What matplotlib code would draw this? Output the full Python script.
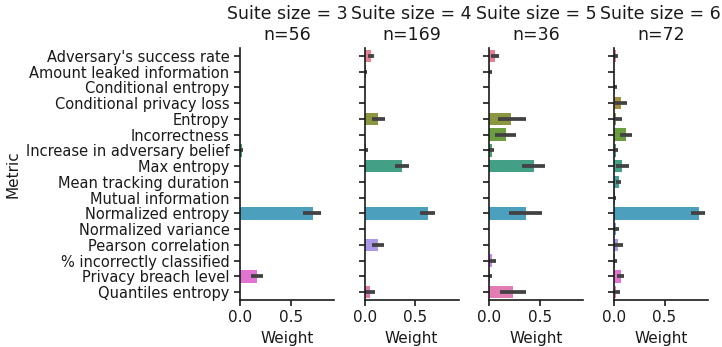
import numpy as np
import matplotlib
matplotlib.use("Agg")
import matplotlib.pyplot as plt
import seaborn as sns

metrics = ["Adversary's success rate", "Amount leaked information", "Conditional entropy",
           "Conditional privacy loss", "Entropy", "Incorrectness", "Increase in adversary belief",
           "Max entropy", "Mean tracking duration", "Mutual information", "Normalized entropy",
           "Normalized variance", "Pearson correlation", "% incorrectly classified",
           "Privacy breach level", "Quantiles entropy"]

suite_sizes = [3, 4, 5, 6]
suite_n = [56, 169, 36, 72]

# mean weight per metric, and CI low / high
mean_3 = [0, 0, 0, 0, 0, 0, 0.02, 0, 0, 0, 0.717, 0, 0, 0, 0.165, 0]
lo_3 = [0, 0, 0, 0, 0, 0, 0.0, 0, 0, 0, 0.62, 0, 0, 0, 0.11, 0]
hi_3 = [0, 0, 0, 0, 0, 0, 0.033, 0, 0, 0, 0.80, 0, 0, 0, 0.23, 0]

mean_4 = [0.06, 0.01, 0, 0, 0.128, 0, 0.01, 0.368, 0, 0, 0.622, 0, 0.128, 0, 0, 0.053]
lo_4 = [0.03, 0.0, 0, 0, 0.072, 0, 0.0, 0.30, 0, 0, 0.546, 0, 0.072, 0, 0, 0.0]
hi_4 = [0.09, 0.02, 0, 0, 0.197, 0, 0.036, 0.434, 0, 0, 0.697, 0, 0.1875, 0, 0, 0.105]

mean_5 = [0.056, 0.01, 0, 0, 0.214, 0.161, 0.023, 0.441, 0, 0, 0.362, 0, 0, 0.023, 0.005, 0.23]
lo_5 = [0.016, 0.0, 0, 0, 0.082, 0.059, 0.0, 0.319, 0, 0, 0.197, 0, 0, 0.0, 0.0, 0.105]
hi_5 = [0.099, 0.023, 0, 0, 0.359, 0.266, 0.046, 0.549, 0, 0, 0.523, 0, 0, 0.0625, 0.023, 0.365]

mean_6 = [0.02, 0.002, 0.01, 0.072, 0.02, 0.118, 0.02, 0.082, 0.053, 0.013, 0.842, 0.02, 0.043, 0.013, 0.072, 0.02]
lo_6 = [0.0, 0.0, 0.0, 0.007, 0.0, 0.066, 0.0, 0.023, 0.023, 0.0, 0.763, 0.0, 0.0, 0.0, 0.033, 0.0]
hi_6 = [0.04, 0.005, 0.03, 0.13, 0.076, 0.181, 0.04, 0.145, 0.072, 0.026, 0.901, 0.05, 0.086, 0.036, 0.099, 0.059]

means = [mean_3, mean_4, mean_5, mean_6]
los = [lo_3, lo_4, lo_5, lo_6]
his = [hi_3, hi_4, hi_5, hi_6]

plt.rcParams['font.family'] = ['DejaVu Sans']
plt.rcParams['text.color'] = '#1a1a1a'
plt.rcParams['axes.labelcolor'] = '#1a1a1a'
plt.rcParams['xtick.color'] = '#1a1a1a'
plt.rcParams['ytick.color'] = '#1a1a1a'

colors = [sns.desaturate(c, 0.75) for c in sns.color_palette("husl", len(metrics))]

fig = plt.figure(figsize=(7.22, 3.47), dpi=100)
left0 = 240 / 722
width = 94 / 722
step = 124.6 / 722
bottom = 1 - 300 / 347
height = (300 - 48) / 347

y = np.arange(len(metrics))
for i in range(4):
    ax = fig.add_axes([left0 + i * step, bottom, width, height])
    m = np.array(means[i]); lo = np.array(los[i]); hi = np.array(his[i])
    ax.barh(y, m, height=0.8, color=colors)
    for yy, l, h in zip(y, lo, hi):
        if h > l:
            ax.plot([l, h], [yy, yy], color='.26', lw=2.7, solid_capstyle='butt')
    ax.set_ylim(len(metrics) - 0.5, -0.5)
    ax.set_xlim(0, 0.927)
    ax.set_xticks([0.0, 0.5])
    ax.set_xticklabels(["0.0", "0.5"])
    ax.set_yticks(y)
    if i == 0:
        ax.set_yticklabels(metrics, fontsize=10.5)
        ax.set_ylabel("Metric", fontsize=11)
    else:
        ax.set_yticklabels([])
    ax.tick_params(axis='x', labelsize=11, length=4, width=1.2)
    ax.tick_params(axis='y', length=4, width=1.2)
    ax.set_xlabel("Weight", fontsize=11)
    ax.set_title(f"Suite size = {suite_sizes[i]}\nn={suite_n[i]}", fontsize=12.5, pad=6)
    for s in ['top', 'right']:
        ax.spines[s].set_visible(False)
    for s in ['left', 'bottom']:
        ax.spines[s].set_linewidth(1.2)
        ax.spines[s].set_color('#1a1a1a')

fig.savefig("out.png", dpi=100)
